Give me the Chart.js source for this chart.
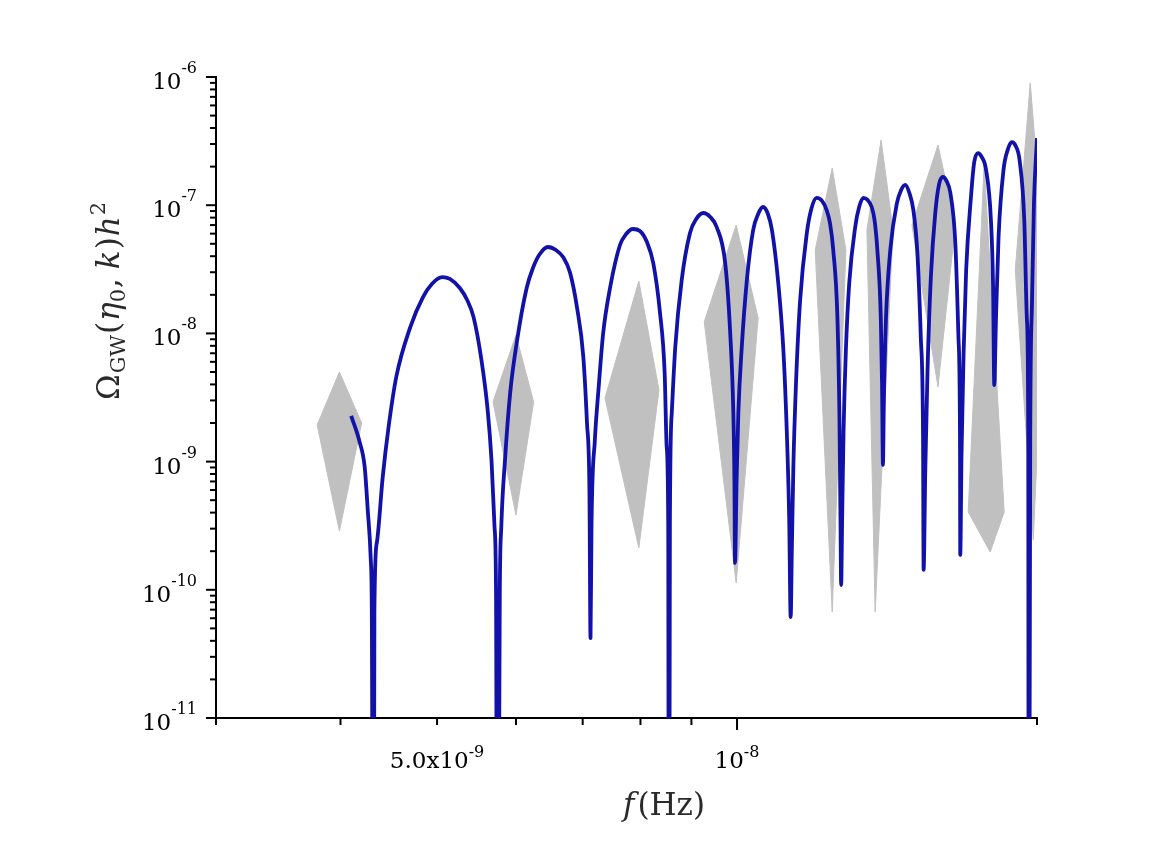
<!DOCTYPE html>
<html>
<head>
<meta charset="utf-8">
<title>Omega_GW spectrum</title>
<script src="https://cdn.jsdelivr.net/npm/chart.js@4.4.1/dist/chart.umd.min.js"></script>
<style>
    html, body { margin: 0; padding: 0; background: #fff; }
    #wrap { width: 1170px; height: 848px; }
</style>
</head>
<body>
<div id="wrap"><canvas id="gwChart" width="1170" height="848"></canvas></div>
<script>
// blue curve (1e-14 = runs below the bottom of the axis)
const curveFreq = [
    4.10e-9, 4.18e-9, 4.23e-9, 4.26e-9, 4.29e-9, 4.30e-9, 4.317e-9,
    4.326e-9, 4.35e-9, 4.41e-9, 4.47e-9, 4.55e-9, 4.70e-9, 4.84e-9, 4.94e-9, 5.06e-9, 5.15e-9, 5.27e-9, 5.36e-9, 5.44e-9, 5.54e-9, 5.62e-9, 5.67e-9, 5.71e-9, 5.73e-9, 5.748e-9,
    5.78e-9, 5.80e-9, 5.85e-9, 5.92e-9, 6.01e-9, 6.15e-9, 6.24e-9, 6.34e-9, 6.46e-9, 6.58e-9, 6.69e-9, 6.80e-9, 6.91e-9, 7.01e-9, 7.07e-9, 7.11e-9, 7.128e-9,
    7.145e-9, 7.20e-9, 7.26e-9, 7.34e-9, 7.46e-9, 7.63e-9, 7.74e-9, 7.86e-9, 7.99e-9, 8.12e-9, 8.24e-9, 8.37e-9, 8.46e-9, 8.50e-9, 8.53e-9, 8.544e-9,
    8.563e-9, 8.60e-9, 8.67e-9, 8.80e-9, 8.97e-9, 9.10e-9, 9.25e-9, 9.40e-9, 9.54e-9, 9.73e-9, 9.84e-9, 9.915e-9, 9.94e-9, 9.954e-9,
    9.99e-9, 1.003e-8, 1.011e-8, 1.023e-8, 1.038e-8, 1.050e-8, 1.062e-8, 1.074e-8, 1.084e-8, 1.100e-8, 1.113e-8, 1.122e-8, 1.128e-8, 1.132e-8,
    1.135e-8, 1.139e-8, 1.146e-8, 1.157e-8, 1.175e-8, 1.188e-8, 1.202e-8, 1.217e-8, 1.230e-8, 1.240e-8, 1.249e-8, 1.261e-8, 1.267e-8, 1.270e-8, 1.272e-8,
    1.275e-8, 1.279e-8, 1.286e-8, 1.296e-8, 1.314e-8, 1.326e-8, 1.339e-8, 1.352e-8, 1.365e-8, 1.374e-8, 1.383e-8, 1.394e-8, 1.398e-8, 1.401e-8,
    1.404e-8, 1.411e-8, 1.425e-8, 1.447e-8, 1.461e-8, 1.475e-8, 1.489e-8, 1.503e-8, 1.517e-8, 1.529e-8, 1.537e-8, 1.539e-8,
    1.545e-8, 1.553e-8, 1.565e-8, 1.581e-8, 1.595e-8, 1.609e-8, 1.623e-8, 1.637e-8, 1.656e-8, 1.668e-8, 1.674e-8, 1.675e-8,
    1.680e-8, 1.688e-8, 1.698e-8, 1.717e-8, 1.730e-8, 1.745e-8, 1.760e-8, 1.778e-8, 1.798e-8, 1.807e-8, 1.812e-8,
    1.819e-8, 1.830e-8, 1.851e-8, 1.869e-8, 1.887e-8, 1.904e-8, 1.921e-8, 1.942e-8, 1.954e-8, 1.960e-8, 1.962e-8,
    1.969e-8, 1.977e-8, 1.986e-8, 2.00e-8
];
const curveOmega = [
    2.27e-9, 1.43e-9, 9.08e-10, 4.19e-10, 1.71e-10, 6.96e-11, 1e-14,
    6.96e-11, 2.32e-10, 7.58e-10, 1.86e-9, 4.57e-9, 1.12e-8, 1.92e-8, 2.43e-8, 2.75e-8, 2.66e-8, 2.26e-8, 1.82e-8, 1.34e-8, 6.20e-9, 2.53e-9, 1.03e-9, 3.09e-10, 9.44e-11, 1e-14,
    9.44e-11, 3.09e-10, 1.03e-9, 3.43e-9, 8.42e-9, 2.26e-8, 3.24e-8, 4.16e-8, 4.72e-8, 4.47e-8, 3.94e-8, 2.96e-8, 1.58e-8, 6.58e-9, 2.00e-9, 6.0e-10, 4.2e-11,
    3.32e-10, 1.47e-9, 3.62e-9, 1.01e-8, 2.30e-8, 4.89e-8, 5.96e-8, 6.52e-8, 6.29e-8, 5.16e-8, 3.54e-8, 1.44e-8, 4.91e-9, 1.30e-9, 3.32e-10, 1e-14,
    3.32e-10, 2.39e-9, 7.83e-9, 2.61e-8, 6.07e-8, 7.80e-8, 8.69e-8, 8.09e-8, 6.76e-8, 3.54e-8, 1.06e-8, 2.39e-9, 7.19e-10, 1.62e-10,
    7.19e-10, 2.39e-9, 7.83e-9, 2.61e-8, 6.41e-8, 8.54e-8, 9.68e-8, 8.54e-8, 6.41e-8, 2.47e-8, 7.42e-9, 1.67e-9, 3.70e-10, 6.13e-11,
    2.04e-10, 9.08e-10, 4.10e-9, 1.82e-8, 6.07e-8, 9.51e-8, 1.14e-7, 1.08e-7, 9.17e-8, 7.13e-8, 4.47e-8, 1.34e-8, 2.23e-9, 3.70e-10, 1.09e-10,
    3.70e-10, 1.67e-9, 7.42e-9, 2.47e-8, 6.76e-8, 9.68e-8, 1.14e-7, 1.10e-7, 9.68e-8, 7.66e-8, 4.47e-8, 1.34e-8, 4.10e-9, 9.41e-10,
    3.02e-9, 1.34e-8, 4.47e-8, 1.04e-7, 1.31e-7, 1.44e-7, 1.25e-7, 9.17e-8, 4.24e-8, 9.37e-9, 1.56e-9, 1.43e-10,
    8.60e-10, 5.18e-9, 2.75e-8, 8.69e-8, 1.46e-7, 1.66e-7, 1.54e-7, 1.25e-7, 5.07e-8, 9.37e-9, 1.56e-9, 1.87e-10,
    1.17e-9, 7.03e-9, 3.12e-8, 1.16e-7, 2.17e-7, 2.55e-7, 2.38e-7, 1.88e-7, 7.66e-8, 2.30e-8, 3.96e-9,
    1.27e-8, 5.65e-8, 1.88e-7, 2.70e-7, 3.11e-7, 2.90e-7, 2.25e-7, 7.66e-8, 1.27e-8, 1.56e-9, 1e-14,
    1.56e-9, 1.73e-8, 1.04e-7, 3.34e-7
];

// grey error diamonds: left / top / right / bottom corners
const bandLeftF   = [3.79e-9, 5.69e-9, 7.37e-9, 9.27e-9, 1.198e-8, 1.350e-8, 1.498e-8, 1.706e-8, 1.902e-8];
const bandLeftY   = [1.93e-9, 2.92e-9, 3.13e-9, 1.23e-8, 4.47e-8, 6.41e-8, 7.0e-8, 4.05e-10, 3.12e-8];
const bandTopF    = [3.99e-9, 6.00e-9, 7.97e-9, 9.98e-9, 1.246e-8, 1.395e-8, 1.591e-8, 1.770e-8, 1.969e-8];
const bandTopY    = [5.0e-9, 9.72e-9, 2.56e-8, 7.0e-8, 1.95e-7, 3.23e-7, 2.95e-7, 2.06e-7, 8.98e-7];
const bandRightF  = [4.20e-9, 6.25e-9, 8.35e-9, 1.05e-8, 1.286e-8, 1.434e-8, 1.656e-8, 1.854e-8, 2.038e-8];
const bandRightY  = [2.0e-9, 2.92e-9, 3.62e-9, 1.32e-8, 4.47e-8, 6.41e-8, 7.0e-8, 4.05e-10, 3.12e-8];
const bandBottomF = [3.99e-9, 6.00e-9, 7.97e-9, 9.98e-9, 1.246e-8, 1.376e-8, 1.591e-8, 1.795e-8, 1.983e-8];
const bandBottomY = [2.87e-10, 3.83e-10, 2.12e-10, 1.13e-10, 6.71e-11, 6.71e-11, 3.82e-9, 1.97e-10, 2.45e-10];

// axes
const xMin = 3e-9, xMax = 2e-8;
const yMin = 1e-11, yMax = 1e-6;
const xTickValues = [3e-9, 4e-9, 5e-9, 6e-9, 7e-9, 8e-9, 9e-9, 1e-8, 2e-8];
const xMajorTicks = [1e-8];
const xTickLabels = [
    { value: 5e-9, base: '5.0x10', exp: '-9' },
    { value: 1e-8, base: '10', exp: '-8' }
];
const yDecades = [-11, -10, -9, -8, -7, -6];
const yMinorSteps = [2, 3, 4, 5, 6, 7, 8, 9];

const curveColor = '#1212a8';
const bandColor = '#c0c0c0';
const tickFont = '"DejaVu Serif", "Liberation Serif", serif';
const titleFont = '"DejaVu Serif", "Liberation Serif", serif';

const curveDataset = {
    data: curveFreq.map((f, i) => ({ x: f, y: curveOmega[i] })),
    borderColor: curveColor,
    borderWidth: 3.8,
    borderJoinStyle: 'round',
    pointRadius: 0,
    cubicInterpolationMode: 'monotone',
    fill: false
};

const bandDatasets = bandLeftF.map((_, i) => ({
    data: [
        { x: bandLeftF[i], y: bandLeftY[i] },
        { x: bandTopF[i], y: bandTopY[i] },
        { x: bandRightF[i], y: bandRightY[i] },
        { x: bandBottomF[i], y: bandBottomY[i] },
        { x: bandLeftF[i], y: bandLeftY[i] }
    ],
    borderColor: bandColor,
    borderWidth: 1,
    backgroundColor: bandColor,
    pointRadius: 0,
    tension: 0,
    fill: 'shape'
}));

// text made of pieces: [text, font, dy, gapAfter]
const drawPieces = (ctx, pieces, x, y, align) => {
    let width = 0;
    pieces.forEach(p => { ctx.font = p[1]; width += ctx.measureText(p[0]).width + (p[3] || 0); });
    let cx = align === 'center' ? x - width / 2 : align === 'right' ? x - width : x;
    pieces.forEach(p => {
        ctx.font = p[1];
        ctx.fillText(p[0], cx, y + p[2]);
        cx += ctx.measureText(p[0]).width + (p[3] || 0);
    });
};

const axisPainter = {
    id: 'axisPainter',
    afterDraw(chart) {
        const { ctx, scales: { x, y } } = chart;
        ctx.save();
        ctx.strokeStyle = '#000';
        ctx.fillStyle = '#000';
        ctx.lineWidth = 2;
        ctx.lineCap = 'butt';
        ctx.textBaseline = 'alphabetic';

        const tick = (x1, y1, x2, y2) => {
            ctx.beginPath();
            ctx.moveTo(x1, y1);
            ctx.lineTo(x2, y2);
            ctx.stroke();
        };

        xTickValues.forEach(v => {
            const px = x.getPixelForValue(v);
            tick(px, y.bottom, px, y.bottom + (xMajorTicks.includes(v) ? 12 : 7));
        });
        yDecades.forEach(e => {
            const py = y.getPixelForValue(Math.pow(10, e));
            tick(x.left - 10, py, x.left, py);
            if (e < yDecades[yDecades.length - 1]) {
                yMinorSteps.forEach(m => {
                    const pm = y.getPixelForValue(m * Math.pow(10, e));
                    tick(x.left - 6, pm, x.left, pm);
                });
            }
        });

        const base = '23px ' + tickFont;
        const sup = '16px ' + tickFont;
        yDecades.forEach(e => {
            const py = y.getPixelForValue(Math.pow(10, e));
            drawPieces(ctx, [['10', base, 12], [String(e), sup, -4]], x.left - 19, py, 'right');
        });
        xTickLabels.forEach(t => {
            const px = x.getPixelForValue(t.value);
            drawPieces(ctx, [[t.base, base, 0], [t.exp, sup, -11]], px, y.bottom + 50, 'center');
        });

        // axis titles
        ctx.fillStyle = '#2a2a2a';
        const big = '31px ' + titleFont;
        const bigIt = 'italic 31px ' + titleFont;
        const small = '21px ' + titleFont;
        drawPieces(ctx, [['f', bigIt, 0, 3], ['(', big, 0], ['Hz', big, 0], [')', big, 0]],
            664, y.bottom + 97, 'center');

        ctx.save();
        ctx.translate(119, 301);
        ctx.rotate(-Math.PI / 2);
        drawPieces(ctx, [
            ['Ω', big, 0, 1], ['GW', small, 6, 1], ['(', big, 0, 1], ['η', bigIt, 0, 0], ['0', small, 6, 1],
            [',', big, 0, 9], ['k', bigIt, 0, 1], [')', big, 0, 1], ['h', bigIt, 0, 1], ['2', small, -14]
        ], 0, 0, 'center');
        ctx.restore();
        ctx.restore();
    }
};

const hiddenAxis = (min, max) => ({
    type: 'logarithmic',
    min: min,
    max: max,
    ticks: { display: false },
    grid: { display: false, drawTicks: false },
    border: { display: true, color: '#000', width: 2 },
    title: { display: false }
});

new Chart(document.getElementById('gwChart'), {
    type: 'line',
    data: { datasets: [curveDataset, ...bandDatasets] },
    options: {
        responsive: false,
        animation: false,
        events: [],
        layout: { padding: { left: 216, right: 133, top: 77, bottom: 130 } },
        plugins: {
            legend: { display: false },
            tooltip: { enabled: false }
        },
        scales: {
            x: hiddenAxis(xMin, xMax),
            y: hiddenAxis(yMin, yMax)
        }
    },
    plugins: [axisPainter]
});
</script>
</body>
</html>
